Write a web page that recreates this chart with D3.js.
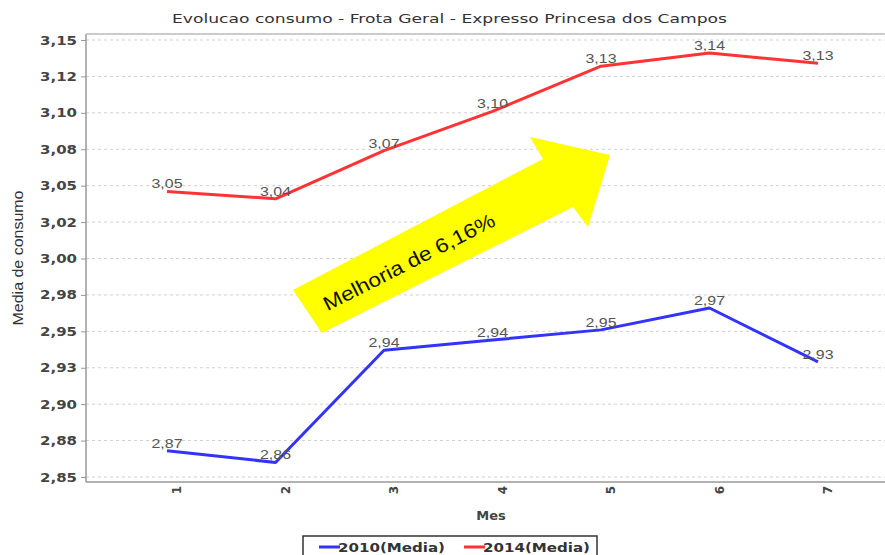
<!DOCTYPE html>
<html>
<head>
<meta charset="utf-8">
<script src="https://cdn.jsdelivr.net/npm/d3@7"></script>
<style>
  body { margin: 0; background: #fff; }
  svg { display: block; }
</style>
</head>
<body>
<div id="chart"></div>
<script>
// chart data
var meses = [1, 2, 3, 4, 5, 6, 7];
var media2010 = [2.868, 2.860, 2.937, 2.944, 2.951, 2.966, 2.929];
var media2014 = [3.046, 3.041, 3.074, 3.101, 3.132, 3.141, 3.134];
var seriesNames = ['2010(Media)', '2014(Media)'];
var yTicks = [2.85, 2.875, 2.90, 2.925, 2.95, 2.975, 3.00, 3.025, 3.05, 3.075, 3.10, 3.125, 3.15];
var yTickLabels = ['2,85', '2,88', '2,90', '2,93', '2,95', '2,98', '3,00', '3,02', '3,05', '3,08', '3,10', '3,12', '3,15'];

var width = 885, height = 555;
var plotLeft = 86, plotRight = 885, plotTop = 34, plotBottom = 482;

var svg = d3.select('#chart').append('svg')
  .attr('width', width)
  .attr('height', height);

svg.append('rect').attr('width', width).attr('height', height).attr('fill', '#fff');

var x = d3.scaleLinear().domain([1, 7]).range([167, 818]);
var y = d3.scaleLinear().domain([2.85, 3.15]).range([477, 40]);

var fmt = function (v) { return d3.format('.2f')(v).replace('.', ','); };

// squeeze/stretch text to a given width
function fit(sel, w) {
  sel.attr('textLength', w).attr('lengthAdjust', 'spacingAndGlyphs');
  return sel;
}

// title
fit(svg.append('text')
  .attr('x', 449.5)
  .attr('y', 23)
  .attr('text-anchor', 'middle')
  .style('font-family', 'DejaVu Sans')
  .style('font-size', '13px')
  .style('fill', '#333')
  .text('Evolucao consumo - Frota Geral - Expresso Princesa dos Campos'), 555);

// grid lines
svg.append('g').selectAll('line')
  .data(yTicks)
  .enter().append('line')
  .attr('x1', plotLeft).attr('x2', plotRight)
  .attr('y1', function (d) { return y(d); })
  .attr('y2', function (d) { return y(d); })
  .attr('stroke', '#d0d0d0')
  .attr('stroke-dasharray', '3,3');

// y axis
var yAxis = d3.axisLeft(y)
  .tickValues(yTicks)
  .tickSize(5)
  .tickPadding(4)
  .tickFormat(function (d, i) { return yTickLabels[i]; });

var gy = svg.append('g')
  .attr('transform', 'translate(' + plotLeft + ',0)')
  .call(yAxis);
gy.select('.domain').remove();
gy.selectAll('.tick line').attr('stroke', '#999');
gy.selectAll('.tick text')
  .style('font-family', 'DejaVu Sans')
  .style('font-weight', 'bold')
  .style('font-size', '12.5px')
  .style('fill', '#444')
  .attr('textLength', 37)
  .attr('lengthAdjust', 'spacingAndGlyphs');

// frame lines
svg.append('line').attr('x1', plotLeft).attr('x2', plotLeft).attr('y1', plotTop).attr('y2', plotBottom)
  .attr('stroke', '#999').attr('stroke-width', 1.5);
svg.append('line').attr('x1', plotLeft).attr('x2', plotRight).attr('y1', plotBottom).attr('y2', plotBottom)
  .attr('stroke', '#999').attr('stroke-width', 1.5);
svg.append('line').attr('x1', plotLeft).attr('x2', plotRight).attr('y1', plotTop).attr('y2', plotTop)
  .attr('stroke', '#bbb').attr('stroke-width', 1.5);

// x axis labels (rotated)
svg.append('g').selectAll('text')
  .data(meses)
  .enter().append('text')
  .attr('transform', function (d) { return 'translate(' + (x(d) + 10) + ',486) rotate(-90)'; })
  .attr('text-anchor', 'end')
  .attr('dy', '0.35em')
  .style('font-family', 'DejaVu Sans')
  .style('font-weight', 'bold')
  .style('font-size', '12px')
  .style('fill', '#444')
  .text(function (d) { return d; });

// axis titles
svg.append('text')
  .attr('x', 491)
  .attr('y', 520)
  .attr('text-anchor', 'middle')
  .style('font-family', 'DejaVu Sans')
  .style('font-weight', 'bold')
  .style('font-size', '13px')
  .style('fill', '#444')
  .text('Mes');

fit(svg.append('text')
  .attr('transform', 'translate(23,258) rotate(-90)')
  .attr('text-anchor', 'middle')
  .style('font-family', 'Liberation Sans')
  .style('font-size', '15px')
  .style('fill', '#333')
  .text('Media de consumo'), 135);

// lines
var line = d3.line()
  .x(function (d, i) { return x(meses[i]); })
  .y(function (d) { return y(d); });

var series = [
  { name: seriesNames[0], values: media2010, color: '#3333ff' },
  { name: seriesNames[1], values: media2014, color: '#ff3333' }
];

series.forEach(function (s) {
  svg.append('path')
    .datum(s.values)
    .attr('d', line)
    .attr('fill', 'none')
    .attr('stroke', s.color)
    .attr('stroke-width', 3)
    .attr('stroke-linejoin', 'round');

  svg.append('g').selectAll('text')
    .data(s.values)
    .enter().append('text')
    .attr('x', function (d, i) { return x(meses[i]); })
    .attr('y', function (d) { return y(d) - 3; })
    .attr('text-anchor', 'middle')
    .style('font-family', 'Liberation Sans')
    .style('font-size', '12.5px')
    .style('fill', '#555')
    .attr('textLength', 31)
    .attr('lengthAdjust', 'spacingAndGlyphs')
    .text(fmt);
});

// yellow arrow annotation
var arrowPts = [[293, 290], [543, 159], [530, 137], [610, 155], [588, 227], [573, 207], [322, 333]];
svg.append('polygon')
  .attr('points', arrowPts.map(function (p) { return p.join(','); }).join(' '))
  .attr('fill', '#ffff00');

fit(svg.append('text')
  .attr('transform', 'translate(409,262) rotate(-27)')
  .attr('text-anchor', 'middle')
  .attr('dy', '0.35em')
  .style('font-family', 'Liberation Sans')
  .style('font-size', '20px')
  .style('fill', '#111')
  .text('Melhoria de 6,16%'), 190);

// legend (box runs off the bottom edge like the original)
var legend = svg.append('g');
legend.append('rect')
  .attr('x', 303).attr('y', 536)
  .attr('width', 294).attr('height', 30)
  .attr('fill', '#fff')
  .attr('stroke', '#333')
  .attr('stroke-width', 1.5);

var legendX = [319, 464];
series.forEach(function (s, i) {
  legend.append('line')
    .attr('x1', legendX[i]).attr('x2', legendX[i] + 21)
    .attr('y1', 547).attr('y2', 547)
    .attr('stroke', s.color)
    .attr('stroke-width', 3);
  fit(legend.append('text')
    .attr('x', legendX[i] + 19)
    .attr('y', 551.5)
    .style('font-family', 'DejaVu Sans')
    .style('font-weight', 'bold')
    .style('font-size', '13px')
    .style('fill', '#333')
    .text(s.name), 107);
});
</script>
</body>
</html>
